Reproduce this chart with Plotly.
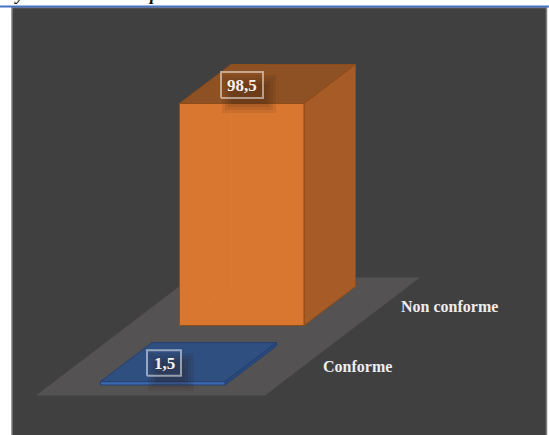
import plotly.graph_objects as go

# Data
categories = ["Conforme", "Non conforme"]
values = [1.5, 98.5]
value_labels = ["1,5", "98,5"]

# Palette
colors = [
    dict(front="#3A68AE", top="#2F4F80", side="#284A80", edge="#24406E"),
    dict(front="#D97731", top="#8D5123", side="#A75C27", edge="#8F4C17"),
]

W, H = 549, 435
PX_PER_UNIT = 222 / 98.5
BASE_PX = 325.5          # pixel row of value 0 for the back category
YMIN = -(H - BASE_PX) / PX_PER_UNIT
YMAX = BASE_PX / PX_PER_UNIT
ROW_DX, ROW_DY = -79.0, -59.5 / PX_PER_UNIT   # shift per category toward the viewer
BAR_W = 124.5
DEPTH_DX, DEPTH_DY = 51.5, 39.0 / PX_PER_UNIT
BACK_LEFT = 179.5


def px_y(p):
    return (BASE_PX - p) / PX_PER_UNIT


def bar_origin(i):
    steps = len(categories) - 1 - i
    return BACK_LEFT + ROW_DX * steps, ROW_DY * steps


def poly(xs, ys, fill, line=None, width=1):
    return go.Scatter(
        x=list(xs) + [xs[0]], y=list(ys) + [ys[0]], mode="lines", fill="toself",
        fillcolor=fill, line=dict(color=line or "rgba(0,0,0,0)", width=width if line else 0),
        hoverinfo="skip", showlegend=False,
    )


fig = go.Figure()

# Floor
floor_l, floor_r = 36.0, 265.0
floor_b = px_y(395.5)
floor_dx, floor_dy = 155.0, 118.0 / PX_PER_UNIT
fig.add_trace(poly([floor_l, floor_r, floor_r + floor_dx, floor_l + floor_dx],
                   [floor_b, floor_b, floor_b + floor_dy, floor_b + floor_dy], "#545252"))

# Bars, back to front
for i in reversed(range(len(categories))):
    x, b = bar_origin(i)
    h = values[i]
    c = colors[i]
    t = b + h
    xr = x + BAR_W
    fig.add_trace(poly([x, xr, xr + DEPTH_DX, x + DEPTH_DX], [t, t, t + DEPTH_DY, t + DEPTH_DY], c["top"], c["edge"]))
    fig.add_trace(poly([xr, xr + DEPTH_DX, xr + DEPTH_DX, xr], [b, b + DEPTH_DY, t + DEPTH_DY, t], c["side"], c["edge"]))
    fig.add_trace(poly([x, xr, xr, x], [b, b, t, t], c["front"], c["edge"]))
    if h > 10:
        fig.add_trace(go.Scatter(x=[x + DEPTH_DX, x + DEPTH_DX, x], y=[t, b + DEPTH_DY, b], mode="lines",
                                 line=dict(color="rgba(224,128,44,0.45)", width=1),
                                 hoverinfo="skip", showlegend=False))

# Soft shadows behind the value labels
label_pos = [(164.0, 363.0, 34, 25.5), (242.0, 85.0, 42, 26)]
for (cx, cy, w, hh) in label_pos:
    for grow in (6, 3, 0, -3):
        l, r = cx - w / 2 + 7 - grow, cx + w / 2 + 7 + grow
        tp, bt = cy - hh / 2 + 9 - grow, cy + hh / 2 + 9 + grow
        fig.add_trace(poly([l, r, r, l], [px_y(bt), px_y(bt), px_y(tp), px_y(tp)], "rgba(40,25,15,0.09)"))

# Value label boxes
annotations = []
for (cx, cy, w, hh), txt, c in zip(label_pos, value_labels, colors):
    l, r = cx - w / 2, cx + w / 2
    tp, bt = cy - hh / 2, cy + hh / 2
    fig.add_trace(go.Scatter(x=[l, r, r, l, l], y=[px_y(bt), px_y(bt), px_y(tp), px_y(tp), px_y(bt)],
                             mode="lines", line=dict(color="rgba(255,255,255,0.5)", width=2),
                             hoverinfo="skip", showlegend=False))
    annotations.append(dict(x=cx, y=px_y(cy), text=f"<b>{txt}</b>", showarrow=False, xref="x", yref="y",
                            font=dict(family="Liberation Serif", size=17, color="#F7F3EE")))

# Category labels
cat_pos = [(357, 366.5), (449, 306.5)]
for (cx, cy), txt in zip(cat_pos, categories):
    annotations.append(dict(x=cx, y=px_y(cy), text=f"<b>{txt}</b>", showarrow=False, xref="x", yref="y",
                            font=dict(family="Liberation Serif", size=16, color="#EDEDED")))

# Cropped line of document text above the chart
annotations.append(dict(x=12, y=px_y(5.5), text="<b><i>y</i></b>", showarrow=False, xref="x", yref="y", xanchor="left",
                        yanchor="bottom", font=dict(family="Liberation Serif", size=18, color="#111111")))
annotations.append(dict(x=146, y=px_y(5.5), text="<b><i>p</i></b>", showarrow=False, xref="x", yref="y", xanchor="left",
                        yanchor="bottom", font=dict(family="Liberation Serif", size=18, color="#111111")))

shapes = [
    dict(type="rect", xref="x", yref="y", x0=12, x1=546.5, y0=YMIN - 10, y1=px_y(7.5), layer="below",
         fillcolor="#404040", line=dict(color="#7F7F7F", width=1.5)),
    dict(type="line", xref="x", yref="y", x0=0, x1=549, y0=px_y(6.5), y1=px_y(6.5), layer="below",
         line=dict(color="#4472C4", width=2)),
]

fig.update_layout(
    width=W, height=H, margin=dict(l=0, r=0, t=0, b=0), paper_bgcolor="white", plot_bgcolor="white",
    xaxis=dict(range=[0, W], visible=False, fixedrange=True),
    yaxis=dict(range=[YMIN, YMAX], visible=False, fixedrange=True),
    showlegend=False, annotations=annotations, shapes=shapes,
)
fig.write_html("out.html", config=dict(displayModeBar=False),
               post_script="document.body.style.margin='0';document.documentElement.style.overflow='hidden';")
